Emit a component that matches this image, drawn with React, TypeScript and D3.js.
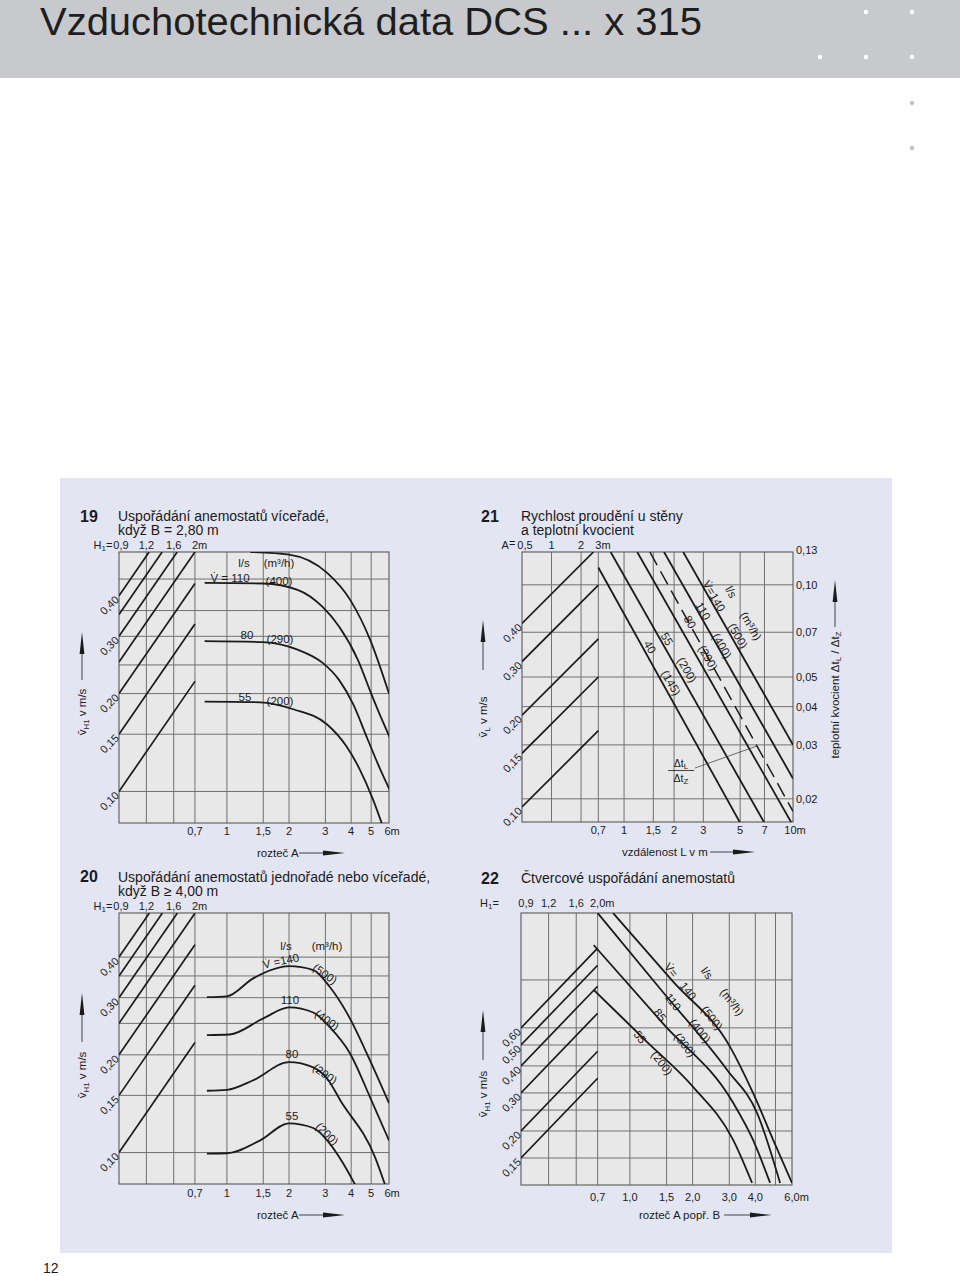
import React from 'react';
import * as d3 from 'd3';

type Pt = [number, number];

// ---------------- page ----------------
const pageTitle = 'Vzduchotechnická data DCS ... x 315';
const pageNumber = '12';

// ---------------- chart 19 ----------------
const c19Number = '19';
const c19Title = ['Uspořádání anemostatů víceřadé,', 'když B = 2,80 m'];
const c19XDomain = [0.3, 6.1];
const c19YDomain = [0.08, 0.545];
const c19XTicks = [0.7, 1, 1.5, 2, 3, 4, 5, 6];
const c19XTickLabels = ['0,7', '1', '1,5', '2', '3', '4', '5', '6m'];
const c19YTicks = [0.4, 0.3, 0.2, 0.15, 0.1];
const c19YTickLabels = ['0,40', '0,30', '0,20', '0,15', '0,10'];
const c19GridX = [0.7, 1, 1.5, 2, 3, 4, 5];
const c19GridY = [0.45, 0.36, 0.3, 0.245, 0.2, 0.15, 0.1];
const c19H1Ticks = [0.9, 1.2, 1.6, 2];
const c19H1Labels = ['0,9', '1,2', '1,6', '2m'];
const c19H1Grid = [1.2, 1.6];
const c19DiagStarts = [0.4, 0.35, 0.3, 0.25, 0.2, 0.15, 0.1];
const c19Flow140: Pt[] = [[1.3, 0.545], [2.0, 0.535], [3.06, 0.47], [3.95, 0.389], [4.94, 0.293], [6.1, 0.2]];
const c19Flow110: Pt[] = [[0.78, 0.438], [1.5, 0.436], [2.2, 0.417], [2.9, 0.37], [3.5, 0.321], [4.3, 0.255], [5.0, 0.2], [5.6, 0.168], [6.2, 0.145]];
const c19Flow80: Pt[] = [[0.78, 0.29], [1.5, 0.288], [2.2, 0.273], [2.9, 0.249], [3.5, 0.22], [4.1, 0.185], [4.8, 0.145], [5.5, 0.118], [6.2, 0.1]];
const c19Flow55: Pt[] = [[0.78, 0.189], [1.45, 0.188], [2.1, 0.179], [3.05, 0.161], [3.8, 0.1375], [4.4, 0.117], [5.1, 0.0946], [5.7, 0.078]];

// ---------------- chart 20 ----------------
const c20Number = '20';
const c20Title = ['Uspořádání anemostatů jednořadé nebo víceřadé,', 'když B ≥ 4,00 m'];
const c20XDomain = [0.3, 6.1];
const c20YDomain = [0.08, 0.547];
const c20XTicks = [0.7, 1, 1.5, 2, 3, 4, 5, 6];
const c20XTickLabels = ['0,7', '1', '1,5', '2', '3', '4', '5', '6m'];
const c20YTicks = [0.4, 0.3, 0.2, 0.15, 0.1];
const c20YTickLabels = ['0,40', '0,30', '0,20', '0,15', '0,10'];
const c20GridX = [0.7, 1, 1.5, 2, 3, 4, 5];
const c20GridY = [0.4, 0.35, 0.3, 0.25, 0.2, 0.15, 0.1];
const c20H1Ticks = [0.9, 1.2, 1.6, 2];
const c20H1Labels = ['0,9', '1,2', '1,6', '2m'];
const c20H1Grid = [1.2, 1.6];
const c20DiagStarts = [0.4, 0.35, 0.3, 0.25, 0.2, 0.15, 0.1];
const c20Flow140: Pt[] = [[0.8, 0.301], [1.0, 0.303], [1.34, 0.344], [2.0, 0.375], [2.62, 0.365], [3.16, 0.323], [3.83, 0.268], [4.94, 0.192], [6.1, 0.142]];
const c20Flow110: Pt[] = [[0.8, 0.23], [1.03, 0.231], [1.5, 0.259], [2.0, 0.28], [2.62, 0.27], [3.16, 0.243], [3.95, 0.202], [4.94, 0.148], [6.1, 0.109]];
const c20Flow80: Pt[] = [[0.8, 0.155], [1.0, 0.156], [1.34, 0.167], [2.0, 0.19], [2.62, 0.183], [3.1, 0.167], [3.54, 0.145], [5.23, 0.0965], [5.9, 0.078]];
const c20Flow55: Pt[] = [[0.8, 0.0993], [1.0, 0.0995], [1.45, 0.109], [2.0, 0.123], [2.62, 0.119], [3.06, 0.109], [3.66, 0.0925], [4.25, 0.078]];

// ---------------- chart 21 ----------------
const c21Number = '21';
const c21Title = ['Rychlost proudění u stěny', 'a teplotní kvocient'];
const c21XDomain = [0.243, 10.4];
const c21YDomain = [0.0893, 0.686];
const c21RDomain = [0.0168, 0.128];
const c21XTicks = [0.7, 1, 1.5, 2, 3, 5, 7, 10];
const c21XTickLabels = ['0,7', '1', '1,5', '2', '3', '5', '7', '10m'];
const c21YTicks = [0.4, 0.3, 0.2, 0.15, 0.1];
const c21YTickLabels = ['0,40', '0,30', '0,20', '0,15', '0,10'];
const c21RTicks = [0.13, 0.1, 0.07, 0.05, 0.04, 0.03, 0.02];
const c21RTickLabels = ['0,13', '0,10', '0,07', '0,05', '0,04', '0,03', '0,02'];
const c21GridX = [0.7, 1, 1.5, 2, 3, 5, 7];
const c21GridR = [0.1, 0.07, 0.05, 0.04, 0.03, 0.02];
const c21ATicks = [0.5, 1, 2, 3];
const c21ALabels = ['0,5', '1', '2', '3m'];
const c21AGrid = [1, 2];
const c21DiagStarts = [0.4, 0.3, 0.2, 0.15, 0.1];
const c21Flow40: Pt[] = [[0.7, 0.61], [5.1, 0.087]];
const c21Flow55: Pt[] = [[0.83, 0.686], [7.1, 0.0875]];
const c21Flow80: Pt[] = [[1.2, 0.686], [10.4, 0.087]];
const c21Flow110: Pt[] = [[1.74, 0.686], [10.4, 0.124]];
const c21Flow140: Pt[] = [[2.27, 0.686], [10.4, 0.16]];
const c21TempRatio: Pt[] = [[1.43, 0.128], [10.4, 0.0182]];

// ---------------- chart 22 ----------------
const c22Number = '22';
const c22Title = ['Čtvercové uspořádání anemostatů'];
const c22XDomain = [0.3, 6.0];
const c22YDomain = [0.1125, 2.04];
const c22XTicks = [0.7, 1, 1.5, 2, 3, 4, 6];
const c22XTickLabels = ['0,7', '1,0', '1,5', '2,0', '3,0', '4,0', '6,0m'];
const c22YTicks = [0.6, 0.5, 0.4, 0.3, 0.2, 0.15];
const c22YTickLabels = ['0,60', '0,50', '0,40', '0,30', '0,20', '0,15'];
const c22GridX = [0.7, 1, 1.5, 2, 3, 4, 5];
const c22GridY = [1.0, 0.6, 0.5, 0.4, 0.3, 0.25, 0.2, 0.15];
const c22H1Ticks = [0.9, 1.2, 1.6, 2];
const c22H1Labels = ['0,9', '1,2', '1,6', '2,0m'];
const c22H1Grid = [1.2, 1.6];
const c22DiagStarts = [0.6, 0.5, 0.4, 0.3, 0.2, 0.15];
const c22Flow140: Pt[] = [[0.83, 2.04], [1.6, 0.99], [3.03, 0.489], [3.9, 0.3], [4.87, 0.182], [6.0, 0.115]];
const c22Flow110: Pt[] = [[0.7, 2.04], [1.4, 0.908], [2.93, 0.383], [4.08, 0.242], [5.26, 0.115]];
const c22Flow85: Pt[] = [[0.67, 1.45], [1.45, 0.625], [3.13, 0.27], [3.9, 0.182], [4.71, 0.115]];
const c22Flow55: Pt[] = [[0.67, 0.9], [1.2, 0.52], [2.01, 0.32], [3.13, 0.182], [3.86, 0.115]];

// ---------------- styles ----------------
const FONT = '"Liberation Sans", Arial, Helvetica, sans-serif';
const INK = '#1b1b1b';
const GRIDC = '#707070';
const PLOT_BG = '#e8e8e9';
const PANEL_BG = '#e3e5f3';

function Arrow({ x1, y1, x2, y2, head = 22, w = 2.4 }: any) {
  const dx = x2 - x1, dy = y2 - y1;
  const L = Math.hypot(dx, dy);
  const ux = dx / L, uy = dy / L;
  const bx = x2 - ux * head, by = y2 - uy * head;
  const px = -uy * w, py = ux * w;
  return (
    <g>
      <line x1={x1} y1={y1} x2={bx} y2={by} stroke={INK} strokeWidth={0.8} />
      <polygon points={`${bx + px},${by + py} ${x2},${y2} ${bx - px},${by - py}`} fill={INK} />
    </g>
  );
}

function estW(s: string, fs: number) {
  let w = 0;
  for (const c of s) w += c === ',' || c === '.' ? 0.28 : c === '1' ? 0.5 : 0.556;
  return w * fs;
}

function TickLabel({ x, y, label, fs }: any) {
  if (label.endsWith('m')) {
    const num = label.slice(0, -1);
    const half = estW(num, fs) / 2;
    return (
      <text x={x - half} y={y} fontSize={fs} fontFamily={FONT} fill={INK}>
        {label}
      </text>
    );
  }
  return (
    <text x={x} y={y} fontSize={fs} fontFamily={FONT} fill={INK} textAnchor="middle">
      {label}
    </text>
  );
}

function Nomo({ s }: any) {
  const [x0, y0, x1, y1] = s.box;
  const x = d3.scaleLog().domain(s.xDomain).range([x0, x1]);
  const y = d3.scaleLog().domain(s.yDomain).range([y1, y0]);
  const r = s.rDomain ? d3.scaleLog().domain(s.rDomain).range([y1, y0]) : y;
  const xe = x(s.secEnd);
  const h = d3.scaleLog().domain([s.secTicks[0], s.secTicks[s.secTicks.length - 1]]).range([x0, xe]);
  const gy = s.gridOnRight ? r : y;
  const clipId = 'clip-' + s.id;
  const mk = (sc: any) =>
    d3.line<Pt>().x((d) => x(d[0])).y((d) => sc(d[1])).curve(d3.curveMonotoneX);
  const lineL = mk(y);
  const lineR = mk(r);

  const diag = s.diagStarts.map((v: number) => {
    const ys = y(v);
    const xt = x0 + (ys - y0) / s.diagSlope;
    const xend = Math.min(xe, xt);
    const yend = ys - (xend - x0) * s.diagSlope;
    return { x1: x0, y1: ys, x2: xend, y2: yend };
  });

  const fsT = 11;
  return (
    <g>
      <defs>
        <clipPath id={clipId}>
          <rect x={x0} y={y0} width={x1 - x0} height={y1 - y0} />
        </clipPath>
      </defs>
      <text x={s.numPos[0]} y={s.numPos[1]} fontSize={16} fontWeight="bold" fontFamily={FONT} fill={INK}>
        {s.number}
      </text>
      {s.title.map((t: string, i: number) => (
        <text key={t} x={s.titlePos[0]} y={s.titlePos[1] + i * 14} fontSize={14} fontFamily={FONT} fill={INK}>
          {t}
        </text>
      ))}
      <rect x={x0} y={y0} width={x1 - x0} height={y1 - y0} fill={PLOT_BG} />
      {s.gridX.map((v: number) => (
        <line key={'gx' + v} x1={x(v)} x2={x(v)} y1={y0} y2={y1} stroke={GRIDC} strokeWidth={1} />
      ))}
      {s.secGrid.map((v: number) => (
        <line key={'sx' + v} x1={h(v)} x2={h(v)} y1={y0} y2={y1} stroke={GRIDC} strokeWidth={1} />
      ))}
      {s.gridY.map((v: number) => (
        <line key={'gy' + v} x1={x0} x2={x1} y1={gy(v)} y2={gy(v)} stroke={GRIDC} strokeWidth={1} />
      ))}
      <rect x={x0} y={y0} width={x1 - x0} height={y1 - y0} fill="none" stroke="#5a5a5a" strokeWidth={1.1} />
      <g clipPath={`url(#${clipId})`}>
        {diag.map((d: any, i: number) => (
          <line key={'d' + i} x1={d.x1} y1={d.y1} x2={d.x2} y2={d.y2} stroke={INK} strokeWidth={1.7} />
        ))}
        {s.curves.map((c: any, i: number) => (
          <path
            key={'c' + i}
            d={(c.right ? lineR : lineL)(c.pts) || ''}
            fill="none"
            stroke={INK}
            strokeWidth={c.dashed ? 1.5 : 1.8}
            strokeDasharray={c.dashed ? '15 7' : undefined}
          />
        ))}
      </g>
      <text
        x={s.secPrefixX != null ? s.secPrefixX : h(s.secTicks[0]) - estW(s.secLabels[0], fsT) / 2 + 1}
        y={s.secY}
        fontSize={fsT}
        fontFamily={FONT}
        fill={INK}
        textAnchor={s.secPrefixX != null ? 'start' : 'end'}
      >
        {s.secPrefix[0]}
        <tspan fontSize={8} dy={2}>
          {s.secPrefix[1]}
        </tspan>
        <tspan dy={-2}>{s.secPrefix[2]}</tspan>
      </text>
      {s.secTicks.map((v: number, i: number) => (
        <TickLabel key={'st' + i} x={i === 0 ? h(v) + s.secFirstShift : h(v)} y={s.secY} label={s.secLabels[i]} fs={fsT} />
      ))}
      {s.xTicks.map((v: number, i: number) => (
        <TickLabel key={'xt' + i} x={x(v)} y={y1 + s.xTickDy} label={s.xTickLabels[i]} fs={fsT} />
      ))}
      {s.yTicks.map((v: number, i: number) => (
        <text
          key={'yt' + i}
          x={x0 - 2}
          y={y(v) + 2}
          fontSize={fsT}
          fontFamily={FONT}
          fill={INK}
          textAnchor="end"
          transform={`rotate(-45 ${x0 - 2} ${y(v) + 2})`}
          dy="0.35em"
        >
          {s.yTickLabels[i]}
        </text>
      ))}
      {s.rTicks &&
        s.rTicks.map((v: number, i: number) => (
          <text key={'rt' + i} x={x1 + 3} y={r(v) + 4} fontSize={fsT} fontFamily={FONT} fill={INK}>
            {s.rTickLabels[i]}
          </text>
        ))}
      {s.notes.map((n: any, i: number) => (
        <text
          key={'n' + i}
          x={n.x}
          y={n.y}
          fontSize={n.fs || 11.5}
          fontFamily={FONT}
          fill={INK}
          textAnchor="middle"
          dominantBaseline="central"
          transform={n.rot ? `rotate(${n.rot} ${n.x} ${n.y})` : undefined}
        >
          {n.t}
        </text>
      ))}
      <text x={s.xTitle.x} y={s.xTitle.y + 4} fontSize={11.5} fontFamily={FONT} fill={INK}>
        {s.xTitle.t}
      </text>
      <Arrow x1={s.xTitle.a0} y1={s.xTitle.y} x2={s.xTitle.a1} y2={s.xTitle.y} />
      <text
        x={s.yTitle.x}
        y={s.yTitle.y}
        fontSize={11.5}
        fontFamily={FONT}
        fill={INK}
        textAnchor="middle"
        transform={`rotate(-90 ${s.yTitle.x} ${s.yTitle.y})`}
      >
        v̄
        <tspan fontSize={8} dy={3}>
          {s.yTitle.sub}
        </tspan>
        <tspan dy={-3}> v m/s</tspan>
      </text>
      <Arrow x1={s.yTitle.x - 4} y1={s.yTitle.a0} x2={s.yTitle.x - 4} y2={s.yTitle.a1} />
      {s.extra}
    </g>
  );
}

const specs: any[] = [
  {
    id: 'c19',
    number: c19Number,
    title: c19Title,
    numPos: [80, 522],
    titlePos: [118, 521],
    box: [119, 552, 389, 823],
    xDomain: c19XDomain,
    yDomain: c19YDomain,
    gridX: c19GridX,
    gridY: c19GridY,
    secTicks: c19H1Ticks,
    secLabels: c19H1Labels,
    secGrid: c19H1Grid,
    secEnd: 0.7,
    secY: 549,
    secPrefix: ['H', '1', '='],
    secFirstShift: 2,
    diagStarts: c19DiagStarts,
    diagSlope: 1.45,
    xTicks: c19XTicks,
    xTickLabels: c19XTickLabels,
    xTickDy: 12,
    yTicks: c19YTicks,
    yTickLabels: c19YTickLabels,
    curves: [{ pts: c19Flow140 }, { pts: c19Flow110 }, { pts: c19Flow80 }, { pts: c19Flow55 }],
    notes: [
      { t: 'l/s', x: 244, y: 563 },
      { t: '(m³/h)', x: 279, y: 563 },
      { t: 'V̇ = 110', x: 230, y: 578 },
      { t: '(400)', x: 279, y: 581 },
      { t: '80', x: 247, y: 635 },
      { t: '(290)', x: 280, y: 639 },
      { t: '55', x: 245, y: 697 },
      { t: '(200)', x: 280, y: 701 },
    ],
    xTitle: { t: 'rozteč A', x: 257, y: 853, a0: 299, a1: 345 },
    yTitle: { x: 86, y: 712, sub: 'H1', a0: 680, a1: 632 },
  },
  {
    id: 'c20',
    number: c20Number,
    title: c20Title,
    numPos: [80, 882],
    titlePos: [118, 882],
    box: [119, 913, 389, 1184],
    xDomain: c20XDomain,
    yDomain: c20YDomain,
    gridX: c20GridX,
    gridY: c20GridY,
    secTicks: c20H1Ticks,
    secLabels: c20H1Labels,
    secGrid: c20H1Grid,
    secEnd: 0.7,
    secY: 910,
    secPrefix: ['H', '1', '='],
    secFirstShift: 2,
    diagStarts: c20DiagStarts,
    diagSlope: 1.45,
    xTicks: c20XTicks,
    xTickLabels: c20XTickLabels,
    xTickDy: 13,
    yTicks: c20YTicks,
    yTickLabels: c20YTickLabels,
    curves: [{ pts: c20Flow140 }, { pts: c20Flow110 }, { pts: c20Flow80 }, { pts: c20Flow55 }],
    notes: [
      { t: 'l/s', x: 286, y: 946 },
      { t: '(m³/h)', x: 327, y: 946 },
      { t: 'V̇ =140', x: 281, y: 961, rot: -12 },
      { t: '(500)', x: 325, y: 974, rot: 35 },
      { t: '110', x: 290, y: 1000 },
      { t: '(400)', x: 327, y: 1020, rot: 35 },
      { t: '80', x: 292, y: 1054 },
      { t: '(290)', x: 325, y: 1074, rot: 35 },
      { t: '55', x: 292, y: 1116 },
      { t: '(200)', x: 327, y: 1134, rot: 45 },
    ],
    xTitle: { t: 'rozteč A', x: 257, y: 1215, a0: 299, a1: 345 },
    yTitle: { x: 86, y: 1075, sub: 'H1', a0: 1042, a1: 993 },
  },
  {
    id: 'c21',
    number: c21Number,
    title: c21Title,
    numPos: [481, 522],
    titlePos: [521, 521],
    box: [522, 552, 793, 822],
    xDomain: c21XDomain,
    yDomain: c21YDomain,
    rDomain: c21RDomain,
    gridOnRight: true,
    gridX: c21GridX,
    gridY: c21GridR,
    secTicks: c21ATicks,
    secLabels: c21ALabels,
    secGrid: c21AGrid,
    secEnd: 0.7,
    secY: 549,
    secPrefix: ['A', '', '='],
    secFirstShift: 3,
    diagStarts: c21DiagStarts,
    diagSlope: 1.0,
    xTicks: c21XTicks,
    xTickLabels: c21XTickLabels,
    xTickDy: 12,
    yTicks: c21YTicks,
    yTickLabels: c21YTickLabels,
    rTicks: c21RTicks,
    rTickLabels: c21RTickLabels,
    curves: [
      { pts: c21Flow40 },
      { pts: c21Flow55 },
      { pts: c21Flow80 },
      { pts: c21Flow110 },
      { pts: c21Flow140 },
      { pts: c21TempRatio, right: true, dashed: true },
    ],
    notes: [
      { t: '40', x: 650, y: 647, rot: 60 },
      { t: '(145)', x: 671, y: 683, rot: 60 },
      { t: '55', x: 667, y: 639, rot: 60 },
      { t: '(200)', x: 687, y: 670, rot: 60 },
      { t: '80', x: 690, y: 622, rot: 60 },
      { t: '(290)', x: 708, y: 658, rot: 60 },
      { t: '110', x: 703, y: 611, rot: 60 },
      { t: '(400)', x: 722, y: 646, rot: 60 },
      { t: 'V̇=140', x: 714, y: 596, rot: 60 },
      { t: '(500)', x: 738, y: 636, rot: 60 },
      { t: 'l/s', x: 731, y: 592, rot: 60 },
      { t: '(m³/h)', x: 751, y: 626, rot: 60 },
    ],
    xTitle: { t: 'vzdálenost L v m', x: 622, y: 852, a0: 710, a1: 755 },
    yTitle: { x: 487, y: 717, sub: 'L', a0: 670, a1: 620 },
    extra: (
      <g>
        <text x={681} y={767} fontSize={10.5} fontFamily={FONT} fill={INK} textAnchor="middle">
          Δt<tspan fontSize={8} dy={2}>L</tspan>
        </text>
        <line x1={668} x2={694} y1={770.5} y2={770.5} stroke={INK} strokeWidth={0.8} />
        <text x={681} y={782} fontSize={10.5} fontFamily={FONT} fill={INK} textAnchor="middle">
          Δt<tspan fontSize={8} dy={2}>Z</tspan>
        </text>
        <line x1={695} y1={768} x2={757} y2={746} stroke="#333" strokeWidth={0.7} />
        <text
          x={839}
          y={695}
          fontSize={11.5}
          fontFamily={FONT}
          fill={INK}
          textAnchor="middle"
          transform="rotate(-90 839 695)"
        >
          teplotní kvocient Δt<tspan fontSize={8} dy={2}>L</tspan>
          <tspan dy={-2}> / Δt</tspan>
          <tspan fontSize={8} dy={2}>Z</tspan>
        </text>
        <Arrow x1={835} y1={627} x2={835} y2={580} />
      </g>
    ),
  },
  {
    id: 'c22',
    number: c22Number,
    title: c22Title,
    numPos: [481, 884],
    titlePos: [521, 883],
    box: [521, 913, 792, 1185],
    xDomain: c22XDomain,
    yDomain: c22YDomain,
    gridX: c22GridX,
    gridY: c22GridY,
    secTicks: c22H1Ticks,
    secLabels: c22H1Labels,
    secGrid: c22H1Grid,
    secEnd: 0.7,
    secY: 907,
    secPrefix: ['H', '1', '='],
    secPrefixX: 480,
    secFirstShift: 5,
    diagStarts: c22DiagStarts,
    diagSlope: 1.04,
    xTicks: c22XTicks,
    xTickLabels: c22XTickLabels,
    xTickDy: 16,
    yTicks: c22YTicks,
    yTickLabels: c22YTickLabels,
    curves: [{ pts: c22Flow140 }, { pts: c22Flow110 }, { pts: c22Flow85 }, { pts: c22Flow55 }],
    notes: [
      { t: 'V̇=', x: 671, y: 970, rot: 52 },
      { t: '140', x: 688, y: 991, rot: 52 },
      { t: 'l/s', x: 707, y: 973, rot: 52 },
      { t: '(m³/h)', x: 732, y: 1002, rot: 52 },
      { t: '110', x: 673, y: 1002, rot: 52 },
      { t: '(500)', x: 712, y: 1018, rot: 52 },
      { t: '85', x: 660, y: 1015, rot: 52 },
      { t: '(400)', x: 700, y: 1031, rot: 52 },
      { t: '55', x: 640, y: 1037, rot: 52 },
      { t: '(300)', x: 685, y: 1045, rot: 52 },
      { t: '(200)', x: 662, y: 1063, rot: 52 },
    ],
    xTitle: { t: 'rozteč A popř. B', x: 639, y: 1215, a0: 724, a1: 772 },
    yTitle: { x: 487, y: 1094, sub: 'H1', a0: 1060, a1: 1010 },
  },
];

export default function App() {
  const headerDots: Pt[] = [
    [866, 12],
    [912, 12],
    [820, 57],
    [866, 57],
    [912, 57],
  ];
  const greyDots: Pt[] = [
    [912, 103],
    [912, 148],
  ];
  return (
    <svg
      width={960}
      height={1276}
      viewBox="0 0 960 1276"
      style={{ position: 'absolute', left: 0, top: 0, background: '#fff' }}
    >
      <rect x={0} y={0} width={960} height={1276} fill="#ffffff" />
      <rect x={0} y={0} width={960} height={78} fill="#c8c9cc" />
      <text
        x={40}
        y={35}
        fontSize={39}
        fontFamily={FONT}
        fill="#1e1e1e"
        textLength={662}
        lengthAdjust="spacingAndGlyphs"
      >
        {pageTitle}
      </text>
      {headerDots.map((d, i) => (
        <circle key={'hd' + i} cx={d[0]} cy={d[1]} r={2.2} fill="#ffffff" />
      ))}
      {greyDots.map((d, i) => (
        <circle key={'gd' + i} cx={d[0]} cy={d[1]} r={2.2} fill="#c3c4c8" />
      ))}
      <rect x={60} y={478} width={832} height={775} fill={PANEL_BG} />
      {specs.map((s) => (
        <Nomo key={s.id} s={s} />
      ))}
      <text x={43} y={1273} fontSize={14} fontFamily={FONT} fill={INK}>
        {pageNumber}
      </text>
    </svg>
  );
}
